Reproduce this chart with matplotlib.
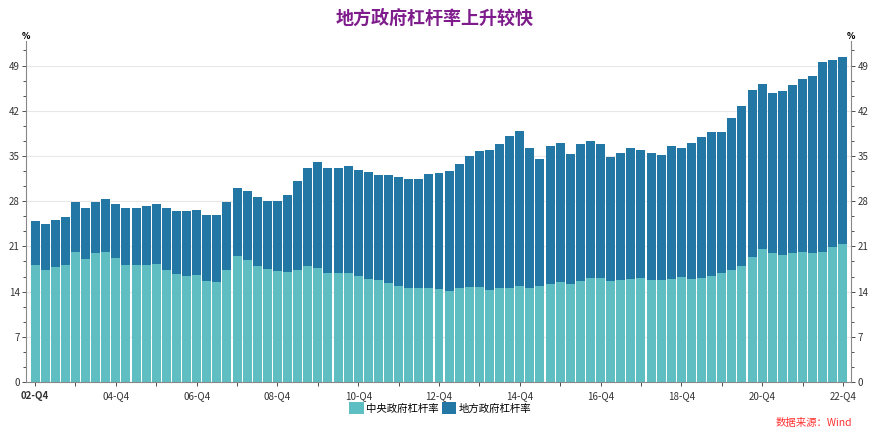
import matplotlib
matplotlib.use("Agg")
import matplotlib.pyplot as plt
import numpy as np
from matplotlib.ticker import MultipleLocator, FixedLocator

plt.rcParams['font.family'] = ['Noto Sans CJK SC', 'DejaVu Sans']

# quarters 02-Q4 .. 22-Q4 (81 quarters)
quarters = []
for y in range(2002, 2023):
    for q in (1, 2, 3, 4):
        if y == 2002 and q < 4:
            continue
        quarters.append(f"{str(y)[2:]}-Q{q}")
quarters = quarters[:81]

central = [18.1, 17.4, 17.8, 18.1, 20.2, 19.1, 19.9, 20.2, 19.2, 18.1,
           18.1, 18.1, 18.3, 17.4, 16.7, 16.4, 16.6, 15.7, 15.5, 17.4,
           19.5, 18.9, 18.0, 17.5, 17.2, 17.0, 17.3, 17.9, 17.7, 16.9,
           16.9, 16.9, 16.4, 16.0, 15.8, 15.3, 14.9, 14.5, 14.5, 14.6,
           14.4, 14.1, 14.5, 14.7, 14.7, 14.3, 14.5, 14.6, 14.9, 14.6,
           14.8, 15.2, 15.5, 15.2, 15.7, 16.1, 16.1, 15.7, 15.8, 16.0,
           16.1, 15.8, 15.8, 16.0, 16.3, 16.0, 16.1, 16.4, 16.9, 17.4,
           18.0, 19.4, 20.6, 19.9, 19.7, 19.9, 20.2, 19.9, 20.2, 20.9,
           21.4]
total = [25.0, 24.4, 25.1, 25.6, 27.8, 27.0, 27.9, 28.4, 27.6, 26.9,
         27.0, 27.2, 27.6, 26.9, 26.5, 26.5, 26.7, 25.9, 25.9, 27.9,
         30.1, 29.5, 28.7, 28.1, 28.1, 29.0, 31.1, 33.1, 34.0, 33.2,
         33.2, 33.4, 32.9, 32.5, 32.1, 32.0, 31.7, 31.5, 31.4, 32.2,
         32.4, 32.7, 33.8, 35.0, 35.7, 36.0, 36.9, 38.1, 38.9, 36.3,
         34.5, 36.5, 37.0, 35.3, 36.8, 37.3, 36.8, 34.9, 35.4, 36.2,
         36.0, 35.4, 35.1, 36.5, 36.3, 37.0, 37.9, 38.7, 38.7, 40.9,
         42.7, 45.2, 46.1, 44.7, 45.0, 46.0, 46.9, 47.4, 49.6, 49.8,
         50.4]
local = [round(t - c, 1) for t, c in zip(total, central)]

series_names = ["中央政府杠杆率", "地方政府杠杆率"]
title = "地方政府杠杆率上升较快"
source = "数据来源：Wind"
yticks = [0, 7, 14, 21, 28, 35, 42, 49]

c_central = "#5FBEC1"
c_local = "#2377A4"

fig = plt.figure(figsize=(8.69, 4.28), dpi=100)
ax = fig.add_axes([26/869, 1-382/428, (851-26)/869, (382-41)/428])

x = np.arange(len(quarters))
ax.bar(x, central, width=0.89, color=c_central, label=series_names[0], zorder=2)
ax.bar(x, local, bottom=central, width=0.89, color=c_local, label=series_names[1], zorder=2)

ax.set_xlim(-0.9, 80.8)
ax.set_ylim(0, 52.8)

ax.yaxis.set_major_locator(FixedLocator(yticks))
ax.yaxis.set_minor_locator(MultipleLocator(7/3))
ax.grid(axis='y', which='major', color='#E8E8E8', linewidth=0.8, zorder=0)
ax.set_axisbelow(True)

ax.tick_params(axis='y', which='both', left=True, right=True, labelleft=True, labelright=True,
               labelsize=7, colors='#333333', length=3, width=0.6, pad=1.5)
ax.tick_params(axis='y', which='minor', length=2)

major_x = [i for i in range(0, 81, 8)]
minor_x = [i for i in range(4, 81, 8)]
ax.set_xticks(major_x)
ax.set_xticklabels([quarters[i] for i in major_x])
ax.set_xticks(minor_x, minor=True)
ax.tick_params(axis='x', which='both', labelsize=7, colors='#333333', length=3, width=0.6)
ax.get_xticklabels()[0].set_fontweight('bold')

for s in ['left', 'right', 'bottom']:
    ax.spines[s].set_color('#888888')
    ax.spines[s].set_linewidth(0.8)
ax.spines['top'].set_visible(False)

ax.text(0, 1.0, "%", transform=ax.transAxes, fontsize=6, fontweight='bold', ha='center', va='bottom',
        family='DejaVu Sans')
ax.text(1, 1.0, "%", transform=ax.transAxes, fontsize=6, fontweight='bold', ha='center', va='bottom',
        family='DejaVu Sans')

fig.text(0.5, 1-18/428, title, ha='center', va='center', fontsize=13, fontweight='bold', color='#7E1C8C')

leg = fig.legend(loc='center', bbox_to_anchor=(440/869, 1-408/428), ncol=2, frameon=False,
                 fontsize=7.5, handlelength=1.4, handleheight=1.4, handletextpad=0.2, columnspacing=0.3)

fig.text(852/869, 1-423/428, source, ha='right', va='center', fontsize=7.5, color='#FF3333', style='italic')

fig.savefig("out.png", dpi=100)
